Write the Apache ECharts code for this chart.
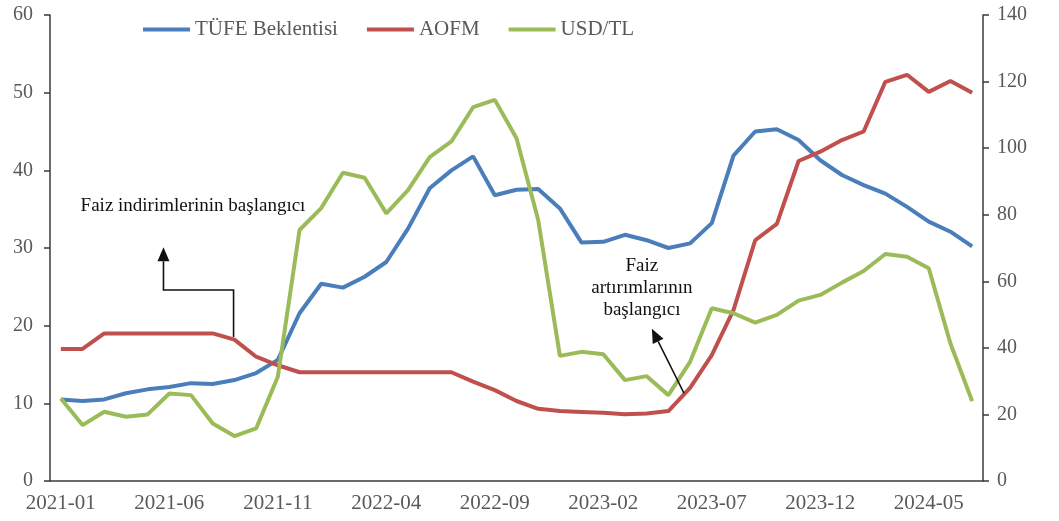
<!DOCTYPE html>
<html>
<head>
<meta charset="utf-8">
<title>TÜFE Beklentisi, AOFM, USD/TL</title>
<script src="https://cdn.jsdelivr.net/npm/echarts@6/dist/echarts.min.js"></script>
<style>
  html, body { margin: 0; padding: 0; background: #fff; }
  #chart { width: 1059px; height: 521px; }
</style>
</head>
<body>
<div id="chart"></div>
<script>
const categories = [
  '2021-01','2021-02','2021-03','2021-04','2021-05','2021-06','2021-07','2021-08','2021-09','2021-10','2021-11','2021-12',
  '2022-01','2022-02','2022-03','2022-04','2022-05','2022-06','2022-07','2022-08','2022-09','2022-10','2022-11','2022-12',
  '2023-01','2023-02','2023-03','2023-04','2023-05','2023-06','2023-07','2023-08','2023-09','2023-10','2023-11','2023-12',
  '2024-01','2024-02','2024-03','2024-04','2024-05','2024-06','2024-07'
];
const tickLabels = ['2021-01','2021-06','2021-11','2022-04','2022-09','2023-02','2023-07','2023-12','2024-05'];

// sol eksen
const tufe = [
  10.5, 10.3, 10.5, 11.3, 11.8, 12.1, 12.6, 12.5, 13.0, 13.9, 15.6, 21.6,
  25.4, 24.9, 26.3, 28.2, 32.5, 37.7, 40.0, 41.8, 36.8, 37.5, 37.6, 35.1,
  30.7, 30.8, 31.7, 31.0, 30.0, 30.6, 33.2, 41.9, 45.0, 45.3, 43.9, 41.3,
  39.4, 38.1, 37.0, 35.3, 33.4, 32.1, 30.2
];
const aofm = [
  17.0, 17.0, 19.0, 19.0, 19.0, 19.0, 19.0, 19.0, 18.2, 16.0, 14.9, 14.0,
  14.0, 14.0, 14.0, 14.0, 14.0, 14.0, 14.0, 12.8, 11.7, 10.3, 9.3, 9.0,
  8.9, 8.8, 8.6, 8.7, 9.0, 12.0, 16.2, 22.0, 31.0, 33.1, 41.2, 42.4,
  43.9, 45.0, 51.4, 52.3, 50.1, 51.5, 50.0
];
// sag eksen
const usdtl = [
  24.8, 16.8, 20.8, 19.3, 20.0, 26.3, 25.8, 17.3, 13.5, 15.8, 31.3, 75.4,
  82.0, 92.6, 91.1, 80.4, 87.4, 97.3, 102.0, 112.3, 114.5, 103.0, 78.4, 37.6,
  38.8, 38.1, 30.3, 31.5, 25.8, 35.8, 51.9, 50.4, 47.6, 49.9, 54.2, 55.9,
  59.6, 63.1, 68.2, 67.4, 63.9, 41.3, 24.0
];

// annotation anchors, in [category index, left axis value]
const noteCut = { text: [6.09, 35.4], path: [[7.96, 18.55], [7.96, 24.6], [4.73, 24.6], [4.73, 30.1]] };
const noteHike = { text: [26.78, 24.9], path: [[28.72, 11.3], [27.24, 19.6]] };

const FONT = "'Liberation Serif', 'Times New Roman', serif";
const AXIS_COLOR = '#3a3a3a';
const LABEL_COLOR = '#595959';

const chart = echarts.init(document.getElementById('chart'));

const option = {
  animation: false,
  textStyle: { fontFamily: FONT },
  grid: { left: 50, right: 76, top: 15, bottom: 40, containLabel: false },
  legend: {
    left: 138,
    top: 14,
    icon: 'rect',
    itemWidth: 47,
    itemHeight: 4,
    itemGap: 29,
    textStyle: { fontFamily: FONT, fontSize: 21, color: LABEL_COLOR },
    data: ['TÜFE Beklentisi', 'AOFM', 'USD/TL']
  },
  xAxis: {
    type: 'category',
    boundaryGap: true,
    data: categories,
    axisLine: { lineStyle: { color: AXIS_COLOR, width: 1.5 } },
    axisTick: { interval: 4, length: 6, lineStyle: { color: AXIS_COLOR, width: 1.5 } },
    axisLabel: {
      interval: 4,
      margin: 12,
      fontFamily: FONT,
      fontSize: 21,
      color: LABEL_COLOR,
      formatter: function (v) {
        return tickLabels.indexOf(v) >= 0 ? v : '';
      }
    }
  },
  yAxis: [
    {
      type: 'value',
      min: 0,
      max: 60,
      interval: 10,
      splitLine: { show: false },
      axisLine: { show: true, lineStyle: { color: AXIS_COLOR, width: 1.5 } },
      axisTick: { show: true, length: 6, lineStyle: { color: AXIS_COLOR, width: 1.5 } },
      axisLabel: { margin: 17, fontFamily: FONT, fontSize: 20, color: LABEL_COLOR }
    },
    {
      type: 'value',
      min: 0,
      max: 140,
      interval: 20,
      position: 'right',
      splitLine: { show: false },
      axisLine: { show: true, lineStyle: { color: AXIS_COLOR, width: 1.5 } },
      axisTick: { show: true, length: 6, lineStyle: { color: AXIS_COLOR, width: 1.5 } },
      axisLabel: { margin: 14, fontFamily: FONT, fontSize: 20, color: LABEL_COLOR }
    }
  ],
  series: [
    {
      name: 'TÜFE Beklentisi',
      type: 'line',
      yAxisIndex: 0,
      showSymbol: false,
      symbol: 'none',
      color: '#4A7EBB',
      lineStyle: { width: 4 },
      data: tufe
    },
    {
      name: 'AOFM',
      type: 'line',
      yAxisIndex: 0,
      showSymbol: false,
      symbol: 'none',
      color: '#C0504D',
      lineStyle: { width: 4 },
      data: aofm
    },
    {
      name: 'USD/TL',
      type: 'line',
      yAxisIndex: 1,
      showSymbol: false,
      symbol: 'none',
      color: '#9BBB59',
      lineStyle: { width: 4 },
      data: usdtl
    }
  ]
};
chart.setOption(option);

// annotations: positioned from the axes, drawn as graphic elements
const p0 = chart.convertToPixel({ xAxisIndex: 0, yAxisIndex: 0 }, [0, 0]);
const p1 = chart.convertToPixel({ xAxisIndex: 0, yAxisIndex: 0 }, [1, 10]);

function px(p) {
  return [p0[0] + p[0] * (p1[0] - p0[0]), p0[1] + p[1] / 10 * (p1[1] - p0[1])];
}

function arrowHead(from, to, len, half) {
  const dx = to[0] - from[0], dy = to[1] - from[1];
  const d = Math.sqrt(dx * dx + dy * dy);
  const ux = dx / d, uy = dy / d;
  const bx = to[0] - ux * len, by = to[1] - uy * len;
  return [to, [bx - uy * half, by + ux * half], [bx + uy * half, by - ux * half]];
}

function arrowGraphics(path) {
  const pts = path.map(px);
  const n = pts.length;
  const head = arrowHead(pts[n - 2], pts[n - 1], 14, 6);
  // stop the line inside the head
  const last = head[1].map((v, k) => (v + head[2][k]) / 2);
  const linePts = pts.slice(0, n - 1).concat([last]);
  return [
    { type: 'polyline', shape: { points: linePts }, style: { stroke: '#111', lineWidth: 1.6, fill: null }, z: 100 },
    { type: 'polygon', shape: { points: head }, style: { fill: '#111' }, z: 100 }
  ];
}

function noteText(pos, text) {
  const p = px(pos);
  return {
    type: 'text',
    x: p[0],
    y: p[1],
    z: 100,
    style: {
      text: text,
      fontFamily: FONT,
      fontSize: 19,
      lineHeight: 22,
      fill: '#111',
      align: 'center',
      verticalAlign: 'middle'
    }
  };
}

chart.setOption({
  graphic: [].concat(
    arrowGraphics(noteCut.path),
    [noteText(noteCut.text, 'Faiz indirimlerinin başlangıcı')],
    arrowGraphics(noteHike.path),
    [noteText(noteHike.text, 'Faiz\nartırımlarının\nbaşlangıcı')]
  )
});

window.addEventListener('resize', function () {
  chart.resize();
});
</script>
</body>
</html>
